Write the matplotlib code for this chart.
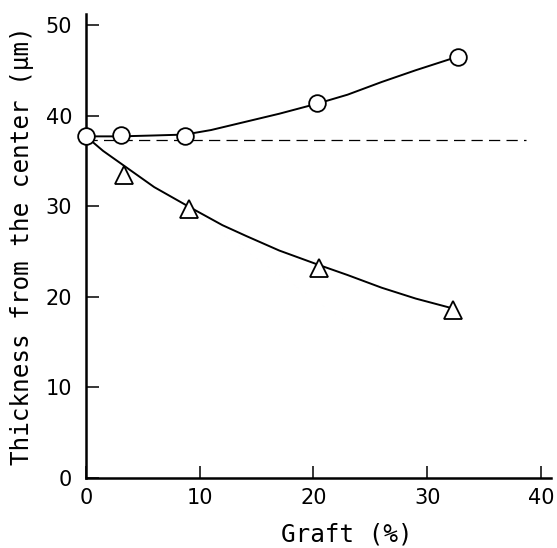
"""Thickness from the center vs. graft percentage (scanned figure redraw)."""
import matplotlib
matplotlib.use("Agg")
import matplotlib.pyplot as plt

# --- data -------------------------------------------------------------
graft_circ = [0.0, 3.1, 8.7, 20.3, 32.7]
thick_circ = [37.7, 37.8, 37.7, 41.4, 46.5]

graft_tri = [3.3, 9.1, 20.5, 32.3]
thick_tri = [33.4, 29.7, 23.2, 18.5]

# hand-drawn smooth curves, sampled by eye
curve_circ_x = [0.0, 3.0, 6.0, 8.7, 11.0, 14.0, 17.0, 20.3, 23.0, 26.0, 29.0, 32.7]
curve_circ_y = [37.7, 37.7, 37.8, 37.9, 38.4, 39.3, 40.2, 41.3, 42.3, 43.7, 45.0, 46.5]

curve_tri_x = [0.0, 1.5, 3.3, 6.0, 9.1, 12.0, 14.1, 17.0, 20.5, 23.0, 26.0, 29.0, 32.3]
curve_tri_y = [37.7, 36.1, 34.5, 32.1, 29.9, 27.9, 26.7, 25.1, 23.5, 22.4, 21.0, 19.8, 18.7]

ref_x = [0.0, 38.7]
ref_y = [37.3, 37.3]

xticks = [0, 10, 20, 30, 40]
yticks = [0, 10, 20, 30, 40, 50]

# --- figure ------------------------------------------------------------
plt.rcParams["font.family"] = ["DejaVu Sans"]
fig = plt.figure(figsize=(5.57, 5.48), dpi=100)
ax = fig.add_axes([0.1544, 0.1277, 0.835, 0.8467])

ax.plot(ref_x, ref_y, color="black", lw=0.9, dashes=(9, 5), zorder=1)
ax.plot(curve_circ_x, curve_circ_y, color="black", lw=1.4, zorder=2)
ax.plot(curve_tri_x, curve_tri_y, color="black", lw=1.4, zorder=2)

ax.plot(graft_circ, thick_circ, ls="none", marker="o", ms=12,
        mfc="white", mec="black", mew=1.3, zorder=3, clip_on=False)
ax.plot(graft_tri, thick_tri, ls="none", marker="^", ms=13,
        mfc="white", mec="black", mew=1.3, zorder=3, clip_on=False)

ax.set_xlim(0, 40.9)
ax.set_ylim(0, 51.2)
ax.set_xticks(xticks)
ax.set_yticks(yticks)
ax.tick_params(direction="in", length=9, width=1.1, labelsize=15)
ax.tick_params(axis="x", pad=7)
ax.tick_params(axis="y", pad=10)

for side in ("top", "right"):
    ax.spines[side].set_visible(False)
for side in ("left", "bottom"):
    ax.spines[side].set_linewidth(1.8)

# the original lettering is wide and evenly spaced -> monospace family
lab_font = dict(family=["DejaVu Sans Mono"], fontsize=17.5)
ax.set_xlabel("Graft (%)", **lab_font)
ax.set_ylabel("Thickness from the center (μm)", **lab_font)
ax.xaxis.set_label_coords(0.56, -0.095)
ax.yaxis.set_label_coords(-0.112, 0.5)

fig.savefig("out.png", dpi=100)
